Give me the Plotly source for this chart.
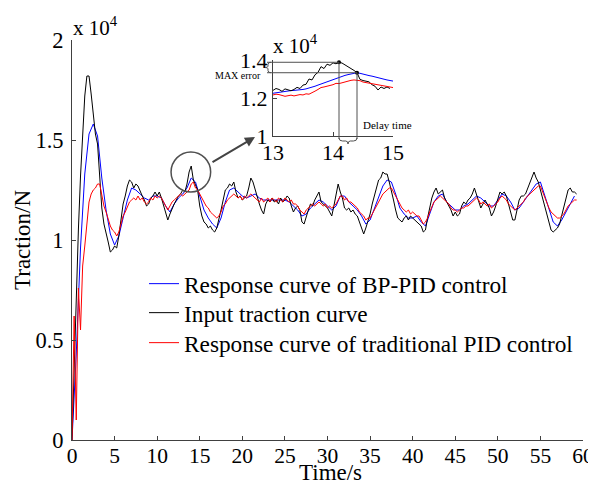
import numpy as np
import plotly.graph_objects as go

# ---------------- data (traction in units of 10^4 N) ----------------
t_fine = np.arange(238) * 0.25          # 0 .. 59.25 s
t_coarse = np.arange(119) * 0.5         # 0 .. 59.0 s

black = [
    0.00, 0.38, 0.78, 1.05, 1.32, 1.55, 1.72, 1.82, 1.82, 1.73, 1.61, 1.53,
    1.48, 1.30, 1.16, 1.08, 1.04, 0.99, 0.94, 0.95, 0.97, 0.96, 1.02, 1.10,
    1.18, 1.22, 1.27, 1.30, 1.29, 1.26, 1.28, 1.27, 1.24, 1.22, 1.20, 1.17,
    1.18, 1.21, 1.22, 1.24, 1.22, 1.24, 1.21, 1.17, 1.13, 1.10, 1.13, 1.16,
    1.18, 1.20, 1.22, 1.23, 1.25, 1.24, 1.28, 1.34, 1.37, 1.30, 1.27, 1.25,
    1.17, 1.12, 1.09, 1.08, 1.06, 1.07, 1.05, 1.04, 1.06, 1.10, 1.15, 1.20,
    1.25, 1.26, 1.28, 1.27, 1.29, 1.24, 1.21, 1.22, 1.20, 1.21, 1.22, 1.26,
    1.31, 1.29, 1.25, 1.21, 1.18, 1.15, 1.13, 1.18, 1.20, 1.19, 1.21, 1.19,
    1.20, 1.18, 1.21, 1.19, 1.20, 1.22, 1.21, 1.17, 1.14, 1.16, 1.17, 1.15,
    1.09, 1.08, 1.12, 1.15, 1.18, 1.17, 1.20, 1.22, 1.24, 1.19, 1.18, 1.17,
    1.16, 1.14, 1.12, 1.17, 1.23, 1.28, 1.24, 1.21, 1.16, 1.15, 1.16, 1.14,
    1.15, 1.13, 1.12, 1.09, 1.05, 1.03, 1.06, 1.09, 1.13, 1.18, 1.22, 1.27,
    1.30, 1.31, 1.34, 1.33, 1.33, 1.29, 1.25, 1.20, 1.15, 1.11, 1.10, 1.09,
    1.11, 1.12, 1.10, 1.12, 1.11, 1.10, 1.09, 1.08, 1.07, 1.04, 1.05, 1.11,
    1.17, 1.21, 1.24, 1.26, 1.23, 1.24, 1.25, 1.21, 1.19, 1.17, 1.15, 1.12,
    1.14, 1.12, 1.13, 1.17, 1.19, 1.18, 1.20, 1.21, 1.23, 1.26, 1.23, 1.19,
    1.16, 1.18, 1.20, 1.18, 1.16, 1.12, 1.14, 1.17, 1.21, 1.24, 1.23, 1.24,
    1.22, 1.18, 1.13, 1.10, 1.10, 1.15, 1.20, 1.22, 1.22, 1.23, 1.26, 1.28,
    1.31, 1.34, 1.31, 1.29, 1.25, 1.21, 1.17, 1.12, 1.08, 1.05, 1.04, 1.05,
    1.06, 1.08, 1.12, 1.17, 1.21, 1.25, 1.26, 1.24, 1.24, 1.23,
]

red = [
    0.00, 0.62, 0.10, 0.76, 0.55, 0.87, 0.97, 1.07, 1.19, 1.23, 1.25, 1.26,
    1.28, 1.28, 1.22, 1.17, 1.14, 1.10, 1.07, 1.05, 1.04, 1.02, 1.04, 1.08,
    1.12, 1.14, 1.17, 1.19, 1.20, 1.21, 1.20, 1.22, 1.20, 1.21, 1.19, 1.18,
    1.19, 1.21, 1.20, 1.22, 1.21, 1.22, 1.21, 1.19, 1.17, 1.15, 1.17, 1.19,
    1.20, 1.21, 1.22, 1.23, 1.22, 1.23, 1.24, 1.25, 1.28, 1.29, 1.26, 1.25,
    1.23, 1.21, 1.19, 1.17, 1.16, 1.14, 1.13, 1.12, 1.11, 1.12, 1.14, 1.17,
    1.18, 1.20, 1.21, 1.22, 1.23, 1.22, 1.21, 1.22, 1.20, 1.22, 1.21, 1.22,
    1.23, 1.22, 1.21, 1.20, 1.19, 1.21, 1.19, 1.20, 1.21, 1.19, 1.21, 1.20,
    1.19, 1.21, 1.20, 1.19, 1.21, 1.20, 1.19, 1.20, 1.18, 1.18, 1.17, 1.15,
    1.14, 1.13, 1.15, 1.16, 1.17, 1.18, 1.17, 1.18, 1.19, 1.18, 1.17, 1.18,
    1.16, 1.17, 1.16, 1.17, 1.18, 1.20, 1.22, 1.22, 1.20, 1.21, 1.19, 1.19,
    1.18, 1.17, 1.16, 1.14, 1.13, 1.12, 1.10, 1.11, 1.11, 1.13, 1.15, 1.17,
    1.19, 1.21, 1.23, 1.24, 1.25, 1.26, 1.26, 1.24, 1.22, 1.20, 1.18, 1.16,
    1.15, 1.14, 1.15, 1.13, 1.14, 1.13, 1.12, 1.12, 1.10, 1.08, 1.09, 1.11,
    1.14, 1.17, 1.19, 1.20, 1.21, 1.22, 1.21, 1.20, 1.19, 1.18, 1.16, 1.15,
    1.15, 1.14, 1.15, 1.16, 1.16, 1.17, 1.17, 1.18, 1.19, 1.20, 1.21, 1.20,
    1.18, 1.19, 1.18, 1.17, 1.18, 1.16, 1.17, 1.18, 1.19, 1.21, 1.22, 1.21,
    1.20, 1.18, 1.17, 1.16, 1.15, 1.16, 1.17, 1.18, 1.19, 1.21, 1.22, 1.23,
    1.24, 1.25, 1.26, 1.27, 1.27, 1.24, 1.21, 1.18, 1.16, 1.14, 1.13, 1.12,
    1.11, 1.11, 1.12, 1.13, 1.15, 1.17, 1.18, 1.19, 1.20, 1.20,
]

blue = [
    0.00, 0.43, 0.96, 1.33, 1.53, 1.58, 1.52, 1.31, 1.15, 1.03,
    0.975, 1.02, 1.11, 1.20, 1.26, 1.25, 1.23, 1.21, 1.20, 1.22,
    1.22, 1.21, 1.17, 1.14, 1.18, 1.21, 1.23, 1.26, 1.31, 1.29,
    1.22, 1.15, 1.11, 1.08, 1.06, 1.11, 1.19, 1.25, 1.26, 1.24,
    1.22, 1.21, 1.22, 1.23, 1.21, 1.20, 1.20, 1.20, 1.20, 1.20,
    1.20, 1.19, 1.17, 1.15, 1.12, 1.13, 1.16, 1.18, 1.20, 1.19,
    1.17, 1.15, 1.17, 1.22, 1.22, 1.19, 1.17, 1.15, 1.12, 1.08,
    1.10, 1.16, 1.22, 1.27, 1.30, 1.29, 1.23, 1.16, 1.13, 1.11,
    1.11, 1.12, 1.09, 1.07, 1.13, 1.19, 1.22, 1.23, 1.19, 1.17,
    1.15, 1.15, 1.17, 1.18, 1.20, 1.22, 1.21, 1.19, 1.17, 1.17,
    1.20, 1.23, 1.22, 1.19, 1.15, 1.16, 1.19, 1.22, 1.25, 1.28,
    1.29, 1.22, 1.15, 1.09, 1.07, 1.10, 1.14, 1.18, 1.22,
]

# inset (13 s .. 15 s, step 0.05 s)
inset_t = np.round(13 + np.arange(41) * 0.05, 2)
inset_black = [
    1.240, 1.250, 1.245, 1.235, 1.248, 1.242, 1.238, 1.245, 1.256, 1.250,
    1.268, 1.272, 1.300, 1.295, 1.322, 1.335, 1.365, 1.355, 1.378, 1.372,
    1.385, 1.380, 1.388, 1.384, 1.375, 1.366, 1.355, 1.345, 1.333, 1.298,
    1.292, 1.290, 1.285, 1.270, 1.262, 1.242, 1.258, 1.250, 1.258, 1.250,
]
inset_blue = [
    1.225, 1.228, 1.231, 1.234, 1.237, 1.238, 1.239, 1.240, 1.241, 1.242,
    1.245, 1.248, 1.252, 1.255, 1.262, 1.268, 1.274, 1.280, 1.287, 1.292,
    1.298, 1.304, 1.310, 1.315, 1.319, 1.323, 1.327, 1.330, 1.333, 1.330,
    1.325, 1.321, 1.318, 1.315, 1.312, 1.309, 1.304, 1.299, 1.295, 1.292,
    1.289,
]
inset_red = [
    1.216, 1.220, 1.218, 1.213, 1.209, 1.212, 1.215, 1.211, 1.214, 1.218,
    1.216, 1.222, 1.220, 1.230, 1.236, 1.245, 1.255, 1.258, 1.262, 1.264,
    1.270, 1.277, 1.276, 1.280, 1.285, 1.288, 1.293, 1.295, 1.294, 1.291,
    1.284, 1.281, 1.278, 1.276, 1.272, 1.270, 1.266, 1.263, 1.261, 1.257,
    1.255,
]

x_ticks = [0, 5, 10, 15, 20, 25, 30, 35, 40, 45, 50, 55, 60]
y_ticks = [0, 0.5, 1, 1.5, 2]
y_tick_text = ["0", "0.5", "1", "1.5", "2"]
inset_x_ticks = [13, 14, 15]
inset_y_ticks = [1, 1.2, 1.4]
inset_y_tick_text = ["1", "1.2", "1.4"]

names = ["Response curve of BP-PID control", "Input traction curve",
         "Response curve of traditional PID control"]
colors = ["#0000FF", "#000000", "#FF0000"]

# ---------------- figure ----------------
# The page body has an 8px margin, so the figure is offset by 8px.
OFF = 8
W, H = 596 - OFF, 487 - OFF
PL, PR, PT, PB = 72, 583, 40, 440      # plot area in window pixels
ML, MT = PL - OFF, PT - OFF
MR, MB = W - (PR - OFF), H - (PB - OFF)
PW, PH = PR - PL, PB - PT
FONT = "Liberation Serif"
AX = "#404040"


def px_x(p):
    return (p - PL) / PW


def px_y(p):
    return (PB - p) / PH


ins_x0, ins_x1 = px_x(273), px_x(393)
ins_y0, ins_y1 = px_y(136), px_y(60)


def y2p(v):  # inset data y -> paper y
    return ins_y0 + (v - 1.0) / 0.4 * (ins_y1 - ins_y0)


def x2p(v):  # inset data x -> paper x
    return ins_x0 + (v - 13.0) / 2.0 * (ins_x1 - ins_x0)


fig = go.Figure()
series = [(t_coarse, blue), (t_fine, black), (t_fine, red)]
legend_ids = ["legend", "legend2", "legend3"]
for i, (tt, yy) in enumerate(series):
    fig.add_trace(go.Scatter(x=tt[:len(yy)], y=yy, mode="lines", name=names[i],
                             line=dict(color=colors[i], width=1),
                             legend=legend_ids[i], showlegend=True))

inset_series = [inset_blue, inset_black, inset_red]
for i, yy in enumerate(inset_series):
    fig.add_trace(go.Scatter(x=inset_t[:len(yy)], y=yy, mode="lines",
                             line=dict(color=colors[i], width=1),
                             xaxis="x2", yaxis="y2", showlegend=False))

ib = int(np.argmax(inset_black))
iu = int(np.argmax(inset_blue))
pk_t = [inset_t[ib], inset_t[iu]]
pk_y = [inset_black[ib], inset_blue[iu]]
fig.add_trace(go.Scatter(x=pk_t, y=pk_y, mode="markers",
                         marker=dict(color="black", size=4),
                         xaxis="x2", yaxis="y2", showlegend=False))

axis_common = dict(showline=True, linecolor=AX, linewidth=1, ticks="inside",
                   ticklen=4, tickcolor=AX, showgrid=False, zeroline=False,
                   ticklabeloverflow="allow", automargin=False)
tf_main = dict(family=FONT, size=21.5, color="black")
tf_ins = dict(family=FONT, size=22, color="black")

legend_rows = [284, 313, 343]
legend_common = dict(xanchor="left", yanchor="middle", bgcolor="rgba(0,0,0,0)",
                     borderwidth=0, font=dict(family=FONT, size=23.3, color="black"))

fig.update_layout(
    width=W, height=H, autosize=False,
    margin=dict(l=ML, r=MR, t=MT, b=MB, pad=0, autoexpand=False),
    paper_bgcolor="white", plot_bgcolor="rgba(0,0,0,0)",
    font=dict(family=FONT, color="black"),
    xaxis=dict(range=[0, 60], tickvals=x_ticks, domain=[0, 1], anchor="y",
               tickfont=tf_main, ticklabelstandoff=-4, **axis_common),
    yaxis=dict(range=[0, 2], tickvals=y_ticks, ticktext=y_tick_text,
               domain=[0, 1], anchor="x", tickfont=dict(family=FONT, size=22.5, color="black"),
               ticklabelstandoff=3, **axis_common),
    xaxis2=dict(range=[13, 15], tickvals=inset_x_ticks, domain=[ins_x0, ins_x1],
                anchor="y2", tickfont=tf_ins, ticklabelstandoff=-3, **axis_common),
    yaxis2=dict(range=[1, 1.4], tickvals=inset_y_ticks, ticktext=inset_y_tick_text,
                domain=[ins_y0, ins_y1], anchor="x2", tickfont=tf_ins,
                **axis_common),
    legend=dict(x=px_x(144), y=px_y(legend_rows[0]), **legend_common),
    legend2=dict(x=px_x(144), y=px_y(legend_rows[1]), **legend_common),
    legend3=dict(x=px_x(144), y=px_y(legend_rows[2]), **legend_common),
    showlegend=True,
)

GREY = "#505050"
shapes = []
# circle around the zoomed region on the main chart
shapes.append(dict(type="circle", xref="x", yref="y", x0=11.63, x1=16.28,
                   y0=1.24, y1=1.44, line=dict(color=GREY, width=1.5)))
# guide lines to the peaks
for tt, yy in zip(pk_t, pk_y):
    shapes.append(dict(type="line", xref="paper", yref="paper",
                       x0=px_x(267), x1=x2p(tt), y0=y2p(yy), y1=y2p(yy),
                       line=dict(color=GREY, width=1)))
    shapes.append(dict(type="line", xref="paper", yref="paper",
                       x0=x2p(tt), x1=x2p(tt), y0=y2p(yy), y1=px_y(139),
                       line=dict(color=GREY, width=1)))
# brace for MAX error
yt, yb = y2p(pk_y[0]), y2p(pk_y[1])
ym = (yt + yb) / 2
xa, xm, xt = px_x(271), px_x(268), px_x(265)
path = (f"M {xa},{yt} Q {xm},{yt} {xm},{yt - (yt - ym) * 0.4} "
        f"L {xm},{ym + (yt - ym) * 0.25} Q {xm},{ym} {xt},{ym} "
        f"Q {xm},{ym} {xm},{ym - (ym - yb) * 0.25} "
        f"L {xm},{yb + (ym - yb) * 0.4} Q {xm},{yb} {xa},{yb}")
shapes.append(dict(type="path", xref="paper", yref="paper", path=path,
                   line=dict(color=GREY, width=1)))
# brace for delay time
xl, xr = x2p(pk_t[0]), x2p(pk_t[1])
xc = (xl + xr) / 2
ya, ymid, ytip = px_y(138), px_y(141), px_y(144)
path2 = (f"M {xl},{ya} Q {xl},{ymid} {xl + (xc - xl) * 0.4},{ymid} "
         f"L {xc - (xc - xl) * 0.25},{ymid} Q {xc},{ymid} {xc},{ytip} "
         f"Q {xc},{ymid} {xc + (xr - xc) * 0.25},{ymid} "
         f"L {xr - (xr - xc) * 0.4},{ymid} Q {xr},{ymid} {xr},{ya}")
shapes.append(dict(type="path", xref="paper", yref="paper", path=path2,
                   line=dict(color=GREY, width=1)))
fig.update_layout(shapes=shapes)

ann = []
ann.append(dict(x=px_x(330), y=px_y(472), xref="paper", yref="paper", text="Time/s",
                xanchor="center", yanchor="middle", showarrow=False,
                font=dict(family=FONT, size=23, color="black")))
ann.append(dict(x=px_x(22), y=px_y(240), xref="paper", yref="paper", text="Traction/N",
                textangle=-90, xanchor="center", yanchor="middle", showarrow=False,
                font=dict(family=FONT, size=23, color="black")))
ann.append(dict(x=px_x(71), y=px_y(42), xref="paper", yref="paper",
                xanchor="left", yanchor="bottom", text="x 10<sup>4</sup>",
                showarrow=False, font=dict(family=FONT, size=21, color="black")))
ann.append(dict(x=px_x(271), y=px_y(60), xref="paper", yref="paper",
                xanchor="left", yanchor="bottom", text="x 10<sup>4</sup>",
                showarrow=False, font=dict(family=FONT, size=21, color="black")))
ann.append(dict(x=px_x(263), y=px_y(75), xref="paper", yref="paper",
                xanchor="right", yanchor="middle", text="MAX error",
                showarrow=False, font=dict(family=FONT, size=10, color="black")))
ann.append(dict(x=px_x(361), y=px_y(125), xref="paper", yref="paper",
                xanchor="left", yanchor="middle", text="Delay time",
                showarrow=False, font=dict(family=FONT, size=11, color="black")))
ann.append(dict(x=px_x(255), y=px_y(137), xref="paper", yref="paper",
                ax=-44, ay=26, text="", showarrow=True, arrowhead=2,
                arrowsize=1, arrowwidth=2, arrowcolor="#444444"))
fig.update_layout(annotations=ann)

fig.write_html("out.html")
